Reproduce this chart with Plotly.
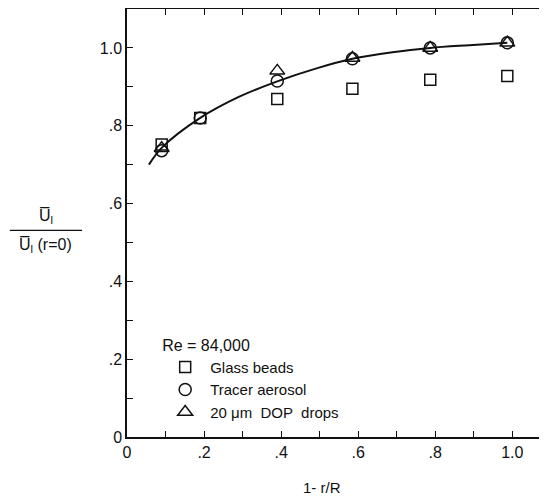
import plotly.graph_objects as go

# Data
glass_x = [0.09, 0.19, 0.39, 0.585, 0.787, 0.987]
glass_y = [0.752, 0.82, 0.869, 0.895, 0.918, 0.928]
tracer_x = [0.09, 0.19, 0.39, 0.585, 0.787, 0.987]
tracer_y = [0.736, 0.82, 0.915, 0.972, 1.0, 1.013]
dop_x = [0.09, 0.39, 0.585, 0.787, 0.987]
dop_y = [0.742, 0.941, 0.974, 1.0, 1.013]
curve_x = [0.057, 0.09, 0.19, 0.29, 0.39, 0.494, 0.585, 0.689, 0.787, 0.888, 0.987]
curve_y = [0.70, 0.743, 0.82, 0.874, 0.914, 0.948, 0.972, 0.989, 1.0, 1.007, 1.013]

tick_vals = [round(i * 0.1, 1) for i in range(11)]
x_tick_text = ["0", "", ".2", "", ".4", "", ".6", "", ".8", "", "1.0"]
y_tick_text = ["0", "", ".2", "", ".4", "", ".6", "", ".8", "", "1.0"]

FONT = "Liberation Sans"
INK = "#111111"

fig = go.Figure()
fig.add_trace(go.Scatter(x=curve_x, y=curve_y, mode="lines",
                         line=dict(color=INK, width=2, shape="spline", smoothing=1.0),
                         showlegend=False, hoverinfo="skip"))
fig.add_trace(go.Scatter(x=glass_x, y=glass_y, mode="markers", name="Glass beads",
                         marker=dict(symbol="square-open", size=11, color=INK,
                                     line=dict(width=1.5, color=INK))))
fig.add_trace(go.Scatter(x=tracer_x, y=tracer_y, mode="markers", name="Tracer aerosol",
                         marker=dict(symbol="circle-open", size=12, color=INK,
                                     line=dict(width=1.5, color=INK))))
fig.add_trace(go.Scatter(x=dop_x, y=dop_y, mode="markers", name="20 \u03bcm  DOP  drops",
                         marker=dict(symbol="triangle-up-open", size=13, color=INK,
                                     line=dict(width=1.5, color=INK))))

axis_common = dict(showgrid=False, zeroline=False, showline=True, linecolor=INK,
                   linewidth=1.5, mirror="allticks", ticks="inside", ticklen=6,
                   tickcolor=INK, tickwidth=1.2, automargin=False,
                   tickfont=dict(family=FONT, size=16, color=INK))

fig.update_xaxes(range=[0, 1.09], tickmode="array", tickvals=tick_vals,
                 ticktext=x_tick_text, **axis_common)
fig.update_yaxes(range=[0, 1.1], tickmode="array", tickvals=tick_vals,
                 ticktext=y_tick_text, **axis_common)

# x-axis title
fig.add_annotation(xref="paper", yref="paper", x=0.464, y=-0.117, xanchor="center",
                   yanchor="middle", showarrow=False, text="1- r/R",
                   font=dict(family=FONT, size=15, color=INK))

# y-axis title as a fraction
fig.add_annotation(xref="paper", yref="paper", x=-0.193, y=0.488, xanchor="center",
                   yanchor="bottom", showarrow=False,
                   text="U\u0305<sub>l</sub>", font=dict(family=FONT, size=16, color=INK))
fig.add_annotation(xref="paper", yref="paper", x=-0.193, y=0.474, xanchor="center",
                   yanchor="top", showarrow=False,
                   text="U\u0305<sub>l</sub> (r=0)", font=dict(family=FONT, size=16, color=INK))
fig.add_shape(type="line", xref="paper", yref="paper", x0=-0.279, x1=-0.107,
              y0=0.483, y1=0.483, line=dict(color=INK, width=1.2))

fig.update_layout(
    width=539, height=489,
    margin=dict(l=119, r=0, t=1, b=60, autoexpand=False),
    paper_bgcolor="white", plot_bgcolor="white",
    font=dict(family=FONT, color=INK),
    legend=dict(x=0.079, y=0.25, xanchor="left", yanchor="top",
                bgcolor="rgba(0,0,0,0)", tracegroupgap=0,
                title=dict(text="Re = 84,000", font=dict(family=FONT, size=16, color=INK)),
                font=dict(family=FONT, size=15, color=INK), itemwidth=40),
)

fig.write_html("out.html")
